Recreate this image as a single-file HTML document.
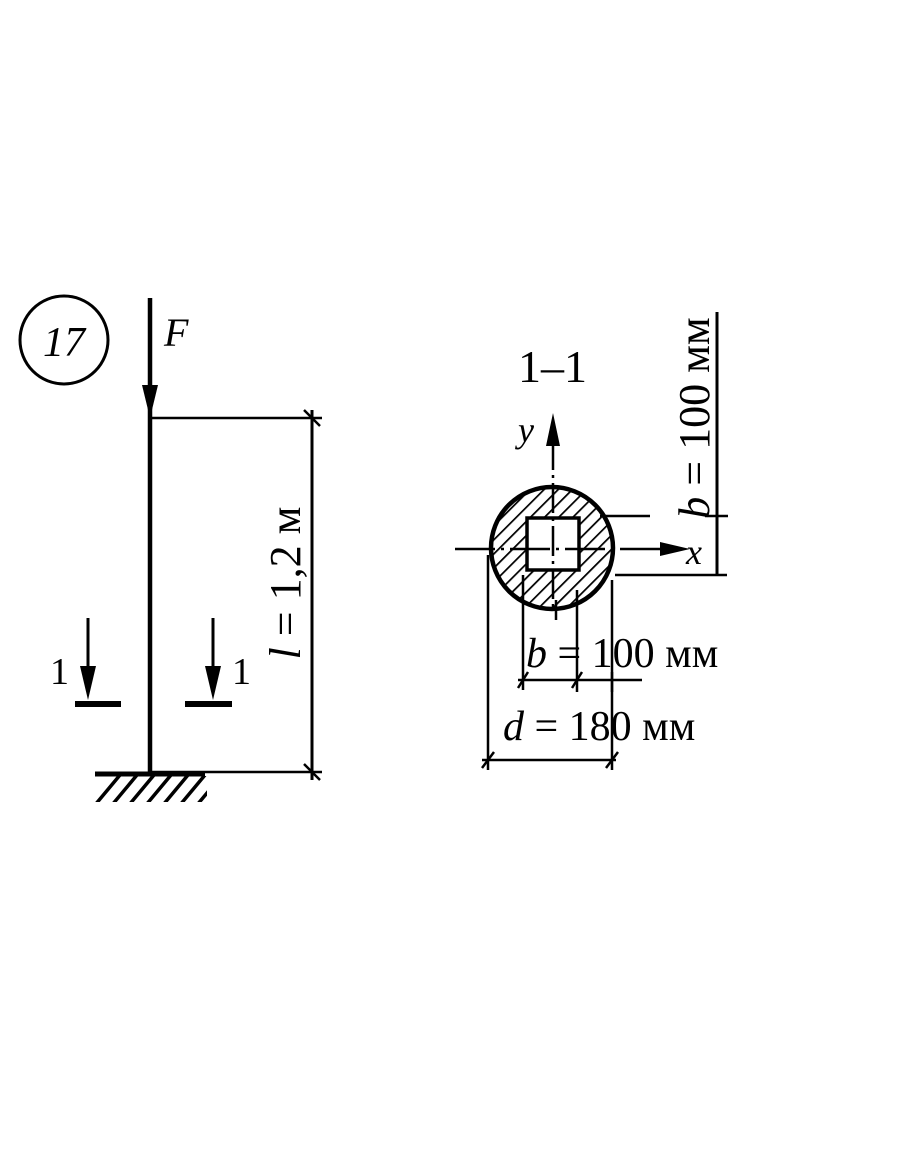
<!DOCTYPE html>
<html><head><style>body{margin:0;background:#fff}svg{display:block}</style></head><body>
<svg width="910" height="1155" viewBox="0 0 910 1155" xmlns="http://www.w3.org/2000/svg" font-family="Liberation Serif, serif">
<defs>
<pattern id="h" width="10" height="10" patternUnits="userSpaceOnUse" patternTransform="rotate(45)">
<line x1="0" y1="0" x2="0" y2="10" stroke="#000" stroke-width="3.5"/></pattern>
<clipPath id="gc"><rect x="95" y="776" width="112" height="26"/></clipPath>
</defs>
<g stroke="#000" fill="none">
<circle cx="64" cy="340" r="44" stroke-width="3"/>
<line x1="150" y1="298" x2="150" y2="772" stroke-width="4.5"/>
<polygon points="142,385 158,385 150,418" fill="#000" stroke="none"/>
<line x1="150" y1="418" x2="322" y2="418" stroke-width="2.5"/>
<line x1="150" y1="772" x2="322" y2="772" stroke-width="2.5"/>
<line x1="312" y1="410" x2="312" y2="780" stroke-width="3"/>
<line x1="304" y1="410" x2="320" y2="426" stroke-width="2.5"/>
<line x1="304" y1="764" x2="320" y2="780" stroke-width="2.5"/>
<line x1="95" y1="774" x2="205" y2="774" stroke-width="5"/>
<g clip-path="url(#gc)" stroke-width="3.5">
<line x1="95" y1="805" x2="120" y2="775"/><line x1="112" y1="805" x2="137" y2="775"/><line x1="129" y1="805" x2="154" y2="775"/><line x1="146" y1="805" x2="171" y2="775"/><line x1="163" y1="805" x2="188" y2="775"/><line x1="180" y1="805" x2="205" y2="775"/><line x1="197" y1="805" x2="222" y2="775"/></g>
<line x1="88" y1="618" x2="88" y2="680" stroke-width="3"/>
<polygon points="80,666 96,666 88,700" fill="#000" stroke="none"/>
<line x1="75" y1="704" x2="121" y2="704" stroke-width="6"/>
<line x1="213" y1="618" x2="213" y2="680" stroke-width="3"/>
<polygon points="205,666 221,666 213,700" fill="#000" stroke="none"/>
<line x1="185" y1="704" x2="232" y2="704" stroke-width="6"/>
<circle cx="552" cy="548" r="60" fill="url(#h)" stroke="none"/>
<rect x="527" y="518" width="52" height="52" fill="#fff" stroke-width="3.5"/>
<circle cx="552" cy="548" r="61" stroke-width="4.5"/>
<line x1="553" y1="440" x2="553" y2="610" stroke-width="2.5" stroke-dasharray="30,5,3,5"/>
<polygon points="546,446 560,446 553,413" fill="#000" stroke="none"/>
<line x1="455" y1="549" x2="670" y2="549" stroke-width="2.5" stroke-dasharray="40,6,3,6"/>
<polygon points="660,542 660,556 690,549" fill="#000" stroke="none"/>
<line x1="600" y1="516" x2="650" y2="516" stroke-width="2.5"/>
<line x1="615" y1="575" x2="727" y2="575" stroke-width="2.5"/>
<line x1="717" y1="312" x2="717" y2="575" stroke-width="3"/>
<line x1="705" y1="516" x2="728" y2="516" stroke-width="2.5"/>
<line x1="488" y1="555" x2="488" y2="770" stroke-width="2.5"/>
<line x1="612" y1="580" x2="612" y2="770" stroke-width="2.5"/>
<line x1="523" y1="575" x2="523" y2="690" stroke-width="2.5"/>
<line x1="577" y1="590" x2="577" y2="692" stroke-width="2.5"/>
<line x1="556" y1="600" x2="556" y2="620" stroke-width="2.5"/>
<line x1="518" y1="680" x2="642" y2="680" stroke-width="2.5"/>
<line x1="518" y1="688" x2="528" y2="672" stroke-width="2.5"/>
<line x1="572" y1="688" x2="582" y2="672" stroke-width="2.5"/>
<line x1="612" y1="672" x2="612" y2="692" stroke-width="2.5"/>
<line x1="482" y1="760" x2="616" y2="760" stroke-width="2.5"/>
<line x1="482" y1="768" x2="494" y2="752" stroke-width="2.5"/>
<line x1="606" y1="768" x2="618" y2="752" stroke-width="2.5"/>
</g>
<g fill="#000">
<text x="64" y="356" font-size="42" font-style="italic" text-anchor="middle">17</text>
<text x="164" y="346" font-size="40" font-style="italic">F</text>
<text x="50" y="684" font-size="38">1</text>
<text x="232" y="684" font-size="38">1</text>
<text transform="translate(300,583) rotate(-90)" font-size="44" text-anchor="middle"><tspan font-style="italic">l</tspan> = 1,2 м</text>
<text x="518" y="382" font-size="46">1–1</text>
<text x="518" y="442" font-size="36" font-style="italic">y</text>
<text x="686" y="564" font-size="36" font-style="italic">x</text>
<text transform="translate(709,418) rotate(-90)" font-size="44" text-anchor="middle"><tspan font-style="italic">b</tspan> = 100 мм</text>
<text x="526" y="667" font-size="42"><tspan font-style="italic">b</tspan> = 100 мм</text>
<text x="503" y="740" font-size="42"><tspan font-style="italic">d</tspan> = 180 мм</text>
</g>
</svg>
</body></html>
